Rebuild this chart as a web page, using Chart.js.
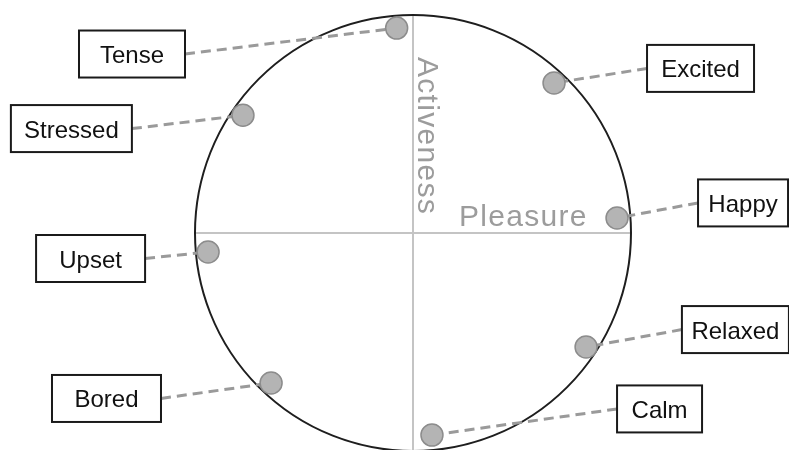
<!DOCTYPE html>
<html>
<head>
<meta charset="utf-8">
<script src="https://cdn.jsdelivr.net/npm/chart.js@4.4.1/dist/chart.umd.min.js"></script>
<style>
  body { margin: 0; background: #fff; }
  canvas { display: block; }
</style>
</head>
<body>
<canvas id="grafico" width="789" height="450"></canvas>
<script>
// Emoções no círculo (prazer x atividade)
const emotions = ['Tense', 'Excited', 'Happy', 'Relaxed', 'Calm', 'Bored', 'Upset', 'Stressed'];
const pleasure = [-0.075, 0.647, 0.936, 0.794, 0.087, -0.651, -0.94, -0.78];
const activeness = [0.94, 0.688, 0.069, -0.523, -0.927, -0.688, -0.087, 0.54];
const axisTitles = ['Pleasure', 'Activeness'];

// Posição das caixas de rótulo (em unidades do gráfico) e larguras em px
const boxX = [-1.289, 1.319, 1.514, 1.479, 1.131, -1.406, -1.479, -1.567];
const boxY = [0.821, 0.755, 0.138, -0.443, -0.807, -0.759, -0.117, 0.479];
const boxW = [106, 107, 90, 107, 85, 109, 109, 121];
const boxH = 47;

const circlePlugin = {
    id: 'circumplex',
    beforeDatasetsDraw(chart) {
        const ctx = chart.ctx;
        const x = chart.scales.x, y = chart.scales.y;
        const cx = x.getPixelForValue(0), cy = y.getPixelForValue(0);
        const r = x.getPixelForValue(1) - cx;
        ctx.save();
        // eixos
        ctx.strokeStyle = '#c4c4c4';
        ctx.lineWidth = 2;
        ctx.beginPath();
        ctx.moveTo(x.getPixelForValue(-1), cy);
        ctx.lineTo(x.getPixelForValue(1), cy);
        ctx.moveTo(cx, y.getPixelForValue(1));
        ctx.lineTo(cx, y.getPixelForValue(-1));
        ctx.stroke();
        // círculo
        ctx.strokeStyle = '#1e1e1e';
        ctx.lineWidth = 2;
        ctx.beginPath();
        ctx.arc(cx, cy, r, 0, Math.PI * 2);
        ctx.stroke();
        // títulos dos eixos
        ctx.fillStyle = '#9c9c9c';
        ctx.font = '30px "Liberation Sans", Arial, sans-serif';
        ctx.letterSpacing = '1.3px';
        ctx.textBaseline = 'alphabetic';
        ctx.fillText(axisTitles[0], cx + 46, cy - 7);
        ctx.translate(cx + 5, cy - 176);
        ctx.rotate(Math.PI / 2);
        ctx.fillText(axisTitles[1], 0, 0);
        ctx.restore();

        // linhas tracejadas até as caixas
        ctx.save();
        ctx.strokeStyle = '#9a9a9a';
        ctx.lineWidth = 3;
        ctx.setLineDash([10, 6]);
        emotions.forEach((e, i) => {
            const px = x.getPixelForValue(pleasure[i]);
            const py = y.getPixelForValue(activeness[i]);
            const bx = x.getPixelForValue(boxX[i]);
            const by = y.getPixelForValue(boxY[i]);
            const sx = bx < px ? bx + boxW[i] / 2 : bx - boxW[i] / 2;
            ctx.beginPath();
            ctx.moveTo(sx, by);
            ctx.lineTo(px, py);
            ctx.stroke();
        });
        ctx.restore();
    },
    afterDatasetsDraw(chart) {
        const ctx = chart.ctx;
        const x = chart.scales.x, y = chart.scales.y;
        ctx.save();
        ctx.font = '24px "Liberation Sans", Arial, sans-serif';
        ctx.textAlign = 'center';
        ctx.textBaseline = 'alphabetic';
        emotions.forEach((e, i) => {
            const bx = x.getPixelForValue(boxX[i]);
            const by = y.getPixelForValue(boxY[i]);
            ctx.fillStyle = '#fff';
            ctx.fillRect(bx - boxW[i] / 2, by - boxH / 2, boxW[i], boxH);
            ctx.strokeStyle = '#1a1a1a';
            ctx.lineWidth = 2;
            ctx.strokeRect(bx - boxW[i] / 2, by - boxH / 2, boxW[i], boxH);
            ctx.fillStyle = '#111';
            ctx.fillText(e, bx, by + 9);
        });
        ctx.restore();
    }
};

const ctx = document.getElementById('grafico').getContext('2d');
const grafico = new Chart(ctx, {
    type: 'scatter',
    data: {
        labels: emotions,
        datasets: [{
            label: 'Emoções',
            data: emotions.map((e, i) => ({ x: pleasure[i], y: activeness[i] })),
            pointRadius: 11,
            pointBackgroundColor: '#b4b4b4',
            pointBorderColor: '#8c8c8c',
            pointBorderWidth: 1.5
        }]
    },
    options: {
        responsive: false,
        animation: false,
        layout: { padding: 0, autoPadding: false },
        plugins: {
            legend: { display: false },
            tooltip: { enabled: false }
        },
        scales: {
            x: { type: 'linear', display: false, min: -1.8945, max: 1.7248 },
            y: { type: 'linear', display: false, min: -0.9954, max: 1.0688 }
        }
    },
    plugins: [circlePlugin]
});
</script>
</body>
</html>
